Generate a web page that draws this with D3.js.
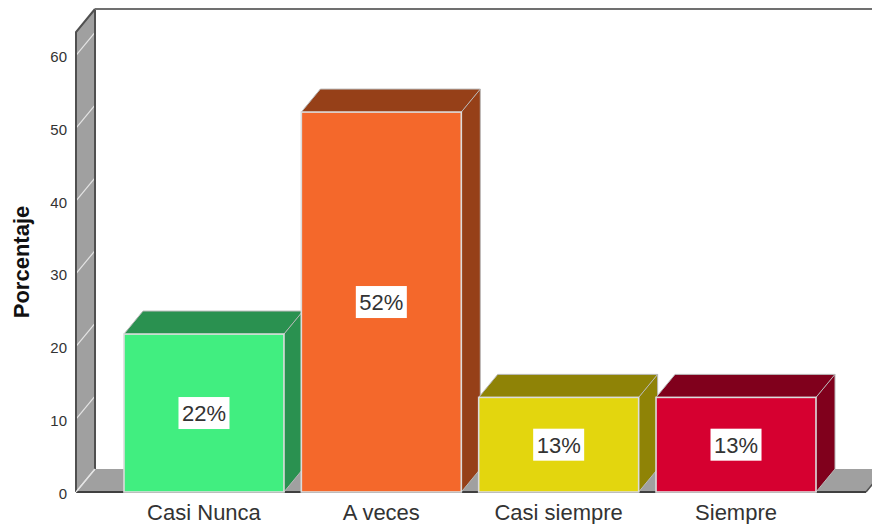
<!DOCTYPE html>
<html>
<head>
<meta charset="utf-8">
<script src="https://cdn.jsdelivr.net/npm/d3@7/dist/d3.min.js"></script>
<style>
html,body{margin:0;padding:0;background:#fff;overflow:hidden}
svg{display:block}
text{font-family:"Liberation Sans",Arial,sans-serif}
</style>
</head>
<body>
<svg id="chart" width="872" height="524"></svg>
<script>
const categories = ["Casi Nunca", "A veces", "Casi siempre", "Siempre"];
const values = [21.7, 52.2, 13.0, 13.0];
const labels = ["22%", "52%", "13%", "13%"];
const frontColors = ["#41ee80", "#f4682b", "#e3d60e", "#d60030"];
const sideColors = ["#2a9150", "#964018", "#8f8306", "#80001c"];
const yTicks = [0, 10, 20, 30, 40, 50, 60];
const axisTitle = "Porcentaje";

(function () {
const width = 872, height = 524;
const dx = 19, dy = -23;
const y0 = 492, frontLeft = 76, floorRight = 866;
const svg = d3.select("#chart");
const y = d3.scaleLinear().domain([0, 63.2]).range([y0, 32]);
const x = d3.scaleBand().domain(categories).range([124, 816]).paddingInner(0.098).paddingOuter(0);
const path = pts => "M" + pts.map(p => p.join(",")).join("L") + "Z";
const line = pts => "M" + pts.map(p => p.join(",")).join("L");
const yTop = y.range()[1];

// left wall
svg.append("path").attr("d", path([[frontLeft, y0], [frontLeft + dx, y0 + dy], [frontLeft + dx, yTop + dy], [frontLeft, yTop]]))
  .attr("fill", "#a0a0a0");
// floor
svg.append("path").attr("d", path([[frontLeft, y0], [frontLeft + dx, y0 + dy], [floorRight + dx, y0 + dy], [floorRight, y0]]))
  .attr("fill", "#a0a0a0");
// wall gridlines
svg.append("g").selectAll("path").data(yTicks).join("path")
  .attr("d", d => line([[frontLeft, y(d)], [frontLeft + dx, y(d) + dy]]))
  .attr("fill", "none").attr("stroke", "#e4e4e4").attr("stroke-width", 1.2);
// frame lines
const frame = [
  {d: line([[frontLeft, y0], [frontLeft, yTop], [frontLeft + dx, yTop + dy]]), c: "#505050", w: 2},
  {d: line([[frontLeft + dx, yTop + dy], [frontLeft + dx, y0 + dy]]), c: "#505050", w: 2},
  {d: line([[frontLeft + dx, yTop + dy], [width, yTop + dy]]), c: "#707070", w: 2},
  {d: line([[frontLeft, y0], [floorRight, y0]]), c: "#404040", w: 2},
  {d: line([[floorRight, y0], [floorRight + dx, y0 + dy]]), c: "#505050", w: 1.5}
];
svg.append("g").selectAll("path").data(frame).join("path")
  .attr("d", d => d.d).attr("fill", "none").attr("stroke", d => d.c).attr("stroke-width", d => d.w);
svg.append("path").attr("d", line([[frontLeft, y0], [frontLeft + dx, y0 + dy]]))
  .attr("fill", "none").attr("stroke", "#e4e4e4").attr("stroke-width", 1.2);

// bars
const bars = svg.append("g").selectAll("g").data(categories).join("g");
const L = c => x(c), R = c => x(c) + x.bandwidth();
const T = (c, i) => y(values[i]);
bars.append("path").attr("d", (c, i) => path([[L(c), T(c, i)], [L(c) + dx, T(c, i) + dy], [R(c) + dx, T(c, i) + dy], [R(c), T(c, i)]]))
  .attr("fill", (c, i) => sideColors[i]);
bars.append("path").attr("d", (c, i) => path([[R(c), T(c, i)], [R(c) + dx, T(c, i) + dy], [R(c) + dx, y0 + dy], [R(c), y0]]))
  .attr("fill", (c, i) => sideColors[i]);
bars.append("path").attr("d", (c, i) => line([[L(c), T(c, i)], [L(c) + dx, T(c, i) + dy], [R(c) + dx, T(c, i) + dy], [R(c) + dx, y0 + dy], [R(c), y0]]))
  .attr("fill", "none").attr("stroke", "#b8b8b8").attr("stroke-width", 1);
bars.append("path").attr("d", (c, i) => line([[R(c), T(c, i)], [R(c) + dx, T(c, i) + dy]]))
  .attr("fill", "none").attr("stroke", "#b8b8b8").attr("stroke-width", 1);
bars.append("rect")
  .attr("x", c => L(c)).attr("y", (c, i) => T(c, i))
  .attr("width", x.bandwidth()).attr("height", (c, i) => y0 - T(c, i))
  .attr("fill", (c, i) => frontColors[i])
  .attr("stroke", "#dcdcdc").attr("stroke-width", 1.6);

// value labels
const lab = svg.append("g").selectAll("g").data(categories).join("g")
  .attr("transform", (c, i) => `translate(${L(c) + x.bandwidth() / 2},${y(values[i] / 2)})`);
lab.append("rect").attr("x", -25.5).attr("y", -16).attr("width", 51).attr("height", 32).attr("fill", "#fff");
lab.append("text").attr("text-anchor", "middle").attr("y", 8).attr("font-size", 22).attr("fill", "#333")
  .text((c, i) => labels[i]);

// y axis
const yAxis = svg.append("g").attr("transform", `translate(${frontLeft},1.5)`)
  .call(d3.axisLeft(y).tickValues(yTicks).tickSize(0).tickPadding(9));
yAxis.select(".domain").remove();
yAxis.selectAll("text").attr("font-size", 15).attr("fill", "#333").style("font-family", '"Liberation Sans",Arial,sans-serif');

// x axis labels
const xAxis = svg.append("g").attr("transform", `translate(0,${y0})`)
  .call(d3.axisBottom(x).tickSize(0).tickPadding(12));
xAxis.select(".domain").remove();
xAxis.selectAll("text").attr("font-size", 22).attr("fill", "#333").style("font-family", '"Liberation Sans",Arial,sans-serif');

// axis title
svg.append("text").attr("transform", "translate(29,262) rotate(-90)")
  .attr("text-anchor", "middle").attr("font-size", 22).attr("font-weight", "bold").attr("fill", "#111")
  .text(axisTitle);
})();
</script>
</body>
</html>
